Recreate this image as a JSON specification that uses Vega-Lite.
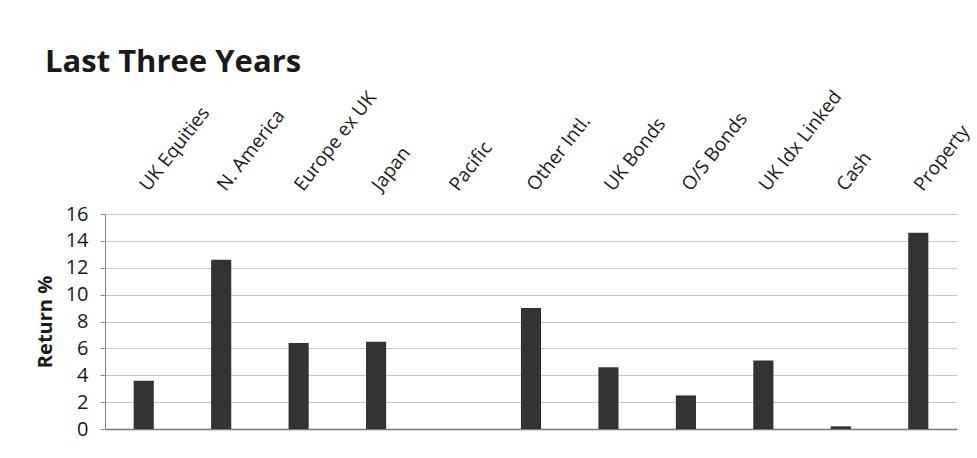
{
  "$schema": "https://vega.github.io/schema/vega-lite/v6.json",
  "autosize": "none",
  "width": 852,
  "height": 215,
  "padding": {"left": 105, "top": 214, "right": 20, "bottom": 29},
  "background": "white",
  "title": {
    "text": "Last Three Years",
    "anchor": "start",
    "frame": "group",
    "orient": "top",
    "dx": -60,
    "offset": 8,
    "font": "Open Sans",
    "fontSize": 31,
    "fontWeight": "bold",
    "color": "#1a1a1a"
  },
  "data": {
    "values": [
      {"asset": "UK Equities", "ret": 3.6},
      {"asset": "N. America", "ret": 12.6},
      {"asset": "Europe ex UK", "ret": 6.4},
      {"asset": "Japan", "ret": 6.5},
      {"asset": "Pacific", "ret": 0},
      {"asset": "Other Intl.", "ret": 9.0},
      {"asset": "UK Bonds", "ret": 4.6},
      {"asset": "O/S Bonds", "ret": 2.5},
      {"asset": "UK Idx Linked", "ret": 5.1},
      {"asset": "Cash", "ret": 0.2},
      {"asset": "Property", "ret": 14.6}
    ]
  },
  "config": {
    "view": {"stroke": null},
    "font": "Open Sans"
  },
  "mark": {"type": "bar", "color": "#333333"},
  "encoding": {
    "x": {
      "field": "asset",
      "type": "nominal",
      "sort": null,
      "scale": {"paddingInner": 0.74, "paddingOuter": 0.37},
      "axis": {
        "orient": "top",
        "title": null,
        "labelAngle": -52,
        "labelAlign": "left",
        "labelBaseline": "middle",
        "labelFont": "Open Sans",
        "labelFontSize": 19,
        "labelColor": "#1a1a1a",
        "labelPadding": 26,
        "labelOverlap": false,
        "ticks": false,
        "domain": false,
        "grid": false
      }
    },
    "y": {
      "field": "ret",
      "type": "quantitative",
      "scale": {"domain": [0, 16], "nice": false},
      "axis": {
        "title": "Return %",
        "titleFont": "Open Sans",
        "titleFontSize": 20,
        "titleFontWeight": "bold",
        "titleColor": "#1a1a1a",
        "titlePadding": 10,
        "values": [0, 2, 4, 6, 8, 10, 12, 14, 16],
        "labelOverlap": false,
        "labelFont": "Open Sans",
        "labelFontSize": 20,
        "labelColor": "#1a1a1a",
        "labelPadding": 12,
        "tickSize": 5,
        "tickColor": "#888888",
        "domainColor": "#888888",
        "gridColor": {"condition": {"test": "datum.value === 0", "value": "#777777"}, "value": "#c8c8c8"},
        "gridWidth": {"condition": {"test": "datum.value === 0", "value": 1.5}, "value": 1}
      }
    }
  }
}
